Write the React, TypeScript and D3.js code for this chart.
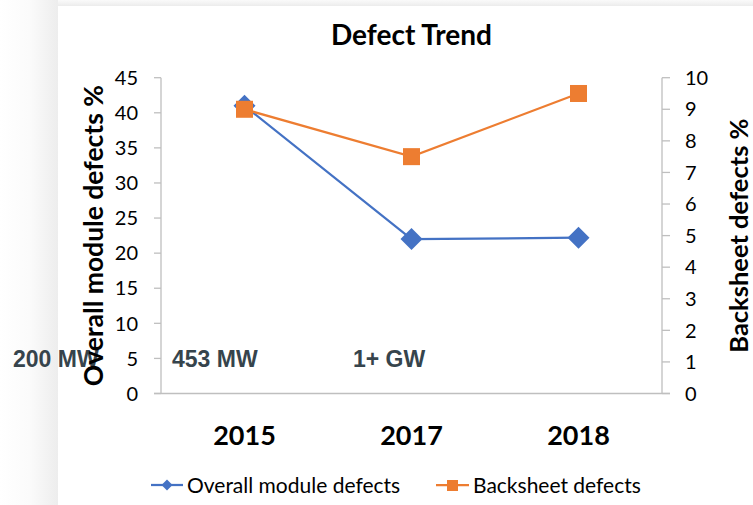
import React from "react";
import * as d3 from "d3";

const categories = ["2015", "2017", "2018"];
const overallDefects = [41, 22, 22.2];
const backsheetDefects = [9, 7.5, 9.5];
const leftDomain = [0, 45];
const rightDomain = [0, 10];
const annotations = ["200 MW", "453 MW", "1+ GW"];
const annotationX = [13, 172, 353];
const seriesNames = ["Overall module defects", "Backsheet defects"];
const title = "Defect Trend";

const W = 753, H = 505;
const plotLeft = 161, plotRight = 662, plotTop = 77.7, plotBottom = 393.5;
const BLUE = "#4472c4", ORANGE = "#ed7d31", AXIS = "#bfbfbf";
const CAL = "Lato, 'Noto Sans', sans-serif";

export default function App() {
  const x = d3.scaleBand().domain(categories).range([plotLeft, plotRight]).paddingInner(0).paddingOuter(0);
  const cx = (c: string) => (x(c) as number) + x.bandwidth() / 2;
  const yL = d3.scaleLinear().domain(leftDomain).range([plotBottom, plotTop]);
  const yR = d3.scaleLinear().domain(rightDomain).range([plotBottom, plotTop]);
  const lineL = d3.line<number>().x((_, i) => cx(categories[i])).y((d) => yL(d));
  const lineR = d3.line<number>().x((_, i) => cx(categories[i])).y((d) => yR(d));
  const leftTicks = d3.range(leftDomain[0], leftDomain[1] + 1, 5);
  const rightTicks = d3.range(rightDomain[0], rightDomain[1] + 1, 1);
  const diamond = (px: number, py: number, r: number) =>
    `M${px},${py - r}L${px + r},${py}L${px},${py + r}L${px - r},${py}Z`;
  const midY = (plotTop + plotBottom) / 2;

  return (
    <svg width={W} height={H} style={{ position: "absolute", left: 0, top: 0, display: "block" }}>
      <defs>
        <linearGradient id="lg" x1="0" x2="1" y1="0" y2="0">
          <stop offset="0" stopColor="#ffffff" />
          <stop offset="0.5" stopColor="#fbfbfb" />
          <stop offset="1" stopColor="#ededed" />
        </linearGradient>
        <linearGradient id="tg" x1="0" x2="0" y1="0" y2="1">
          <stop offset="0" stopColor="#fafafa" />
          <stop offset="1" stopColor="#ececec" />
        </linearGradient>
      </defs>
      <rect x={0} y={0} width={W} height={H} fill="#ffffff" />
      <rect x={0} y={0} width={58} height={H} fill="url(#lg)" />
      <rect x={58} y={0} width={W - 58} height={6} fill="url(#tg)" />
      <rect x={58} y={6} width={W - 58} height={H - 6} fill="#ffffff" />

      <text x={411.5} y={45} textAnchor="middle" fontFamily={CAL} fontWeight="bold" fontSize={28} fill="#000">
        {title}
      </text>

      {/* axes */}
      <line x1={plotLeft} x2={plotLeft} y1={plotTop} y2={plotBottom} stroke={AXIS} strokeWidth={1.3} />
      <line x1={plotRight} x2={plotRight} y1={plotTop} y2={plotBottom} stroke={AXIS} strokeWidth={1.3} />
      <line x1={154} x2={670} y1={plotBottom} y2={plotBottom} stroke={AXIS} strokeWidth={1.3} />
      {leftTicks.map((t) => (
        <g key={"l" + t}>
          <line x1={154} x2={plotLeft} y1={yL(t)} y2={yL(t)} stroke={AXIS} strokeWidth={1.3} />
          <text x={138} y={yL(t)} dy="0.36em" textAnchor="end" fontFamily={CAL} fontSize={20} fill="#000">
            {t}
          </text>
        </g>
      ))}
      {rightTicks.map((t) => (
        <g key={"r" + t}>
          <line x1={plotRight} x2={670} y1={yR(t)} y2={yR(t)} stroke={AXIS} strokeWidth={1.3} />
          <text x={685} y={yR(t)} dy="0.36em" textAnchor="start" fontFamily={CAL} fontSize={20} fill="#000">
            {t}
          </text>
        </g>
      ))}
      {categories.map((c) => (
        <text key={c} x={cx(c)} y={445} textAnchor="middle" fontFamily={CAL} fontWeight="bold" fontSize={27} fill="#000">
          {c}
        </text>
      ))}

      {/* annotations */}
      {annotations.map((a, i) => (
        <text key={a} x={annotationX[i]} y={yL(5)} dy="0.36em" fontFamily="'Liberation Sans', Arial, sans-serif" fontWeight="bold" fontSize={23} fill="#36444c">
          {a}
        </text>
      ))}

      {/* axis titles */}
      <text transform={`translate(103,${midY}) rotate(-90)`} textAnchor="middle" fontFamily={CAL} fontWeight="bold" fontSize={26.5} fill="#000">
        Overall module defects %
      </text>
      <text transform={`translate(748,${midY}) rotate(-90)`} textAnchor="middle" fontFamily={CAL} fontWeight="bold" fontSize={25.5} fill="#000">
        Backsheet defects %
      </text>

      {/* series */}
      <path d={lineL(overallDefects) || ""} fill="none" stroke={BLUE} strokeWidth={2.25} />
      {overallDefects.map((v, i) => (
        <path key={"d" + i} d={diamond(cx(categories[i]), yL(v), 11)} fill={BLUE} />
      ))}
      <path d={lineR(backsheetDefects) || ""} fill="none" stroke={ORANGE} strokeWidth={2.25} />
      {backsheetDefects.map((v, i) => (
        <rect key={"s" + i} x={cx(categories[i]) - 8.5} y={yR(v) - 8.5} width={17} height={17} fill={ORANGE} />
      ))}

      {/* legend */}
      <g>
        <line x1={151} x2={183} y1={485} y2={485} stroke={BLUE} strokeWidth={2.25} />
        <path d={diamond(167, 485, 5.5)} fill={BLUE} />
        <text x={187} y={485} dy="0.36em" fontFamily={CAL} fontSize={21} fill="#000">
          {seriesNames[0]}
        </text>
        <line x1={436} x2={469} y1={485} y2={485} stroke={ORANGE} strokeWidth={2.25} />
        <rect x={447} y={480} width={11} height={11} fill={ORANGE} />
        <text x={473} y={485} dy="0.36em" fontFamily={CAL} fontSize={21} fill="#000">
          {seriesNames[1]}
        </text>
      </g>
    </svg>
  );
}
